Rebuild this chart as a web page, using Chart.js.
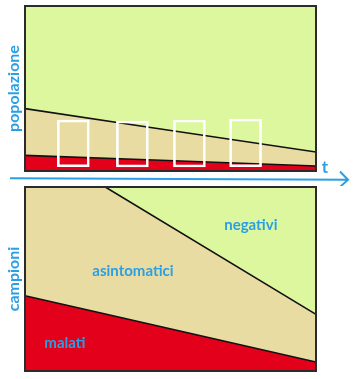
<!DOCTYPE html>
<html>
<head>
<meta charset="utf-8">
<script src="https://cdn.jsdelivr.net/npm/chart.js@4.4.1/dist/chart.umd.min.js"></script>
<style>
  html, body { margin: 0; padding: 0; background: #fff; }
  #wrap { position: relative; width: 354px; height: 379px; }
  #top { position: absolute; left: 0; top: 0; }
  #bottom { position: absolute; left: 0; top: 186px; }
</style>
</head>
<body>
<div id="wrap">
  <canvas id="top" width="354" height="186"></canvas>
  <canvas id="bottom" width="354" height="193"></canvas>
</div>
<script>
// --- Data (x = time 0..1, y = share 0..100) ---
const popX = [0, 0.42, 1];
const popMalati = [9.5, 6.8, 3.0];
const popAsintomatici = [37.8, 26.7, 11.5];
const popTop = [100, 100, 100];

// sampling windows drawn in the top panel
const sampleX = [0.166, 0.369, 0.565, 0.758];
const sampleLow = [2.6, 2.4, 2.4, 2.6];
const sampleHigh = [30.9, 30.3, 30.9, 31.5];

const campX = [0, 0.276, 1];
const campMalati = [40.9, 31.0, 4.9];
const campAsintomatici = [100, 100, 30.8];
const campTop = [100, 100, 100];

const regionLabels = ['negativi', 'asintomatici', 'malati'];
const regionLabelX = [0.776, 0.371, 0.137];
const regionLabelY = [79.3, 54.0, 15.2];

const BLUE = '#2b9fe3';
const GREEN = '#ddf79f';
const TAN = '#e8dca2';
const RED = '#e2001a';

const toPts = (xs, ys) => xs.map((x, i) => ({ x: x, y: ys[i] }));

// --- Plugins ---
const panelFrame = {
    id: 'panelFrame',
    afterDraw(chart, args, opts) {
        const { ctx, chartArea: a } = chart;
        ctx.save();
        ctx.strokeStyle = '#2b2b2b';
        ctx.lineWidth = 2;
        ctx.strokeRect(a.left, a.top, a.width, a.height);

        if (opts.labels) {
            ctx.fillStyle = BLUE;
            ctx.font = 'bold 15px Lato';
            ctx.textAlign = 'center';
            ctx.textBaseline = 'middle';
            opts.labels.forEach((txt, i) => {
                ctx.fillText(txt,
                    chart.scales.x.getPixelForValue(regionLabelX[i]),
                    chart.scales.y.getPixelForValue(regionLabelY[i]));
            });
        }

        if (opts.arrow) {
            // time arrow under the top panel
            const y = a.bottom + 8;
            const x0 = a.left - 15, x1 = chart.width - 6;
            ctx.strokeStyle = BLUE;
            ctx.lineWidth = 2;
            ctx.beginPath();
            ctx.moveTo(x0, y - 0.7);
            ctx.lineTo(x1, y + 0.7);
            ctx.moveTo(x1 - 8, y - 7.5);
            ctx.lineTo(x1, y + 0.7);
            ctx.lineTo(x1 - 8, y + 8);
            ctx.stroke();
            ctx.fillStyle = BLUE;
            ctx.font = 'bold 17px Lato';
            ctx.textAlign = 'center';
            ctx.textBaseline = 'middle';
            ctx.fillText('t', a.right + 9, a.bottom - 3);
        }
        ctx.restore();
    }
};

function baseOptions(title, padding, frameOpts) {
    return {
        responsive: false,
        animation: false,
        layout: { padding: padding },
        plugins: {
            legend: { display: false },
            tooltip: { enabled: false },
            filler: { drawTime: 'beforeDatasetsDraw' },
            panelFrame: frameOpts
        },
        elements: { point: { radius: 0 } },
        scales: {
            x: {
                type: 'linear', min: 0, max: 1, offset: false,
                display: false
            },
            y: {
                min: 0, max: 100,
                ticks: { display: false, padding: 0 },
                grid: { display: false, drawTicks: false },
                border: { display: false },
                title: {
                    display: true, text: title, color: BLUE,
                    font: { family: 'Lato', size: 16, weight: 'bold' },
                    padding: { top: 4, bottom: 0 }
                },
                afterFit(scale) { scale.width = 25; }
            }
        }
    };
}

// --- Top panel: popolazione ---
new Chart(document.getElementById('top'), {
    type: 'line',
    data: {
        datasets: [
            {
                data: toPts(popX, popMalati), borderColor: '#111', borderWidth: 1.6,
                backgroundColor: RED, fill: 'origin', order: 3
            },
            {
                data: toPts(popX, popAsintomatici), borderColor: '#111', borderWidth: 1.6,
                backgroundColor: TAN, fill: '-1', order: 2
            },
            {
                data: toPts(popX, popTop), borderWidth: 0, borderColor: 'rgba(0,0,0,0)',
                backgroundColor: GREEN, fill: '-1', order: 1
            },
            {
                type: 'bar',
                data: sampleX.map((x, i) => ({ x: x, y: [sampleLow[i], sampleHigh[i]] })),
                backgroundColor: 'rgba(0,0,0,0)', borderColor: '#ffffff', borderWidth: 2,
                borderSkipped: false, barThickness: 32, order: 0
            }
        ]
    },
    options: baseOptions('popolazione', { left: 0, right: 38, top: 6, bottom: 15 }, { arrow: true }),
    plugins: [panelFrame]
});

// --- Bottom panel: campioni ---
new Chart(document.getElementById('bottom'), {
    type: 'line',
    data: {
        datasets: [
            {
                data: toPts(campX, campMalati), borderColor: '#111', borderWidth: 1.6,
                backgroundColor: RED, fill: 'origin', order: 3
            },
            {
                data: toPts(campX, campAsintomatici), borderColor: '#111', borderWidth: 1.6,
                backgroundColor: TAN, fill: '-1', order: 2
            },
            {
                data: toPts(campX, campTop), borderWidth: 0, borderColor: 'rgba(0,0,0,0)',
                backgroundColor: GREEN, fill: '-1', order: 1
            }
        ]
    },
    options: baseOptions('campioni', { left: 0, right: 38, top: 1, bottom: 8 }, { labels: regionLabels }),
    plugins: [panelFrame]
});
</script>
</body>
</html>
